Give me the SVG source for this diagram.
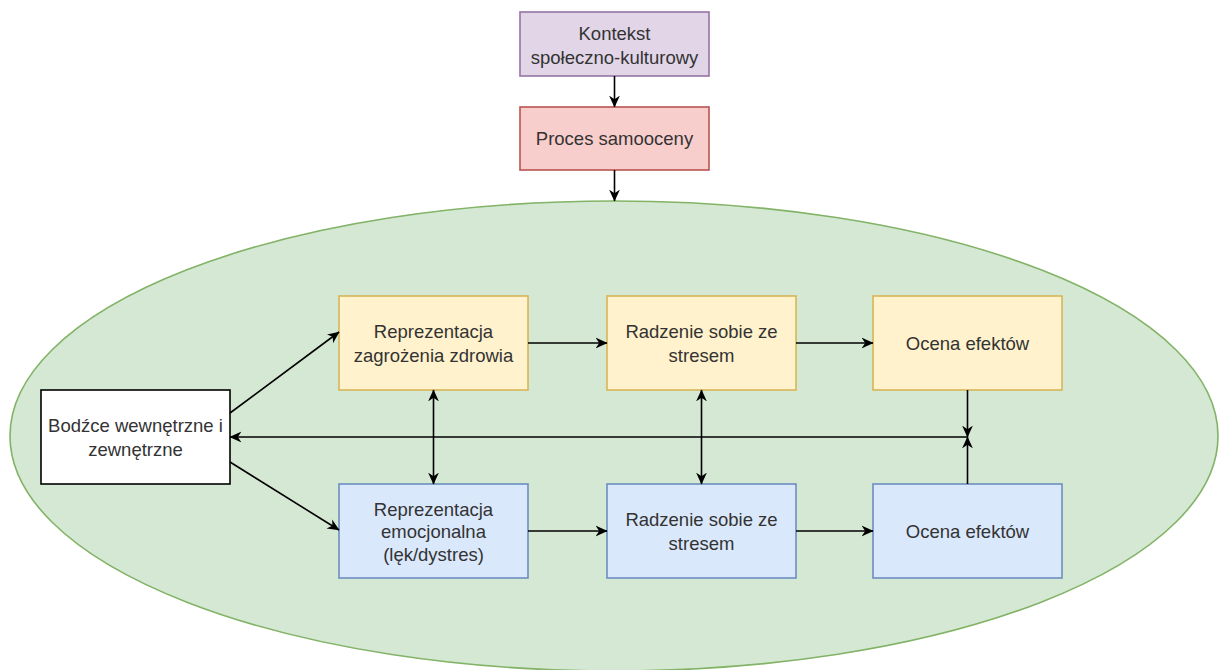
<svg xmlns="http://www.w3.org/2000/svg" width="1219" height="670" viewBox="0 0 1219 670">
<defs>
<marker id="arr" viewBox="0 0 10 10" refX="9.5" refY="5" markerWidth="12" markerHeight="12" markerUnits="userSpaceOnUse" orient="auto-start-reverse">
<path d="M0,0.5 L10,5 L0,9.5 L3,5 Z" fill="#000"/>
</marker>
</defs>
<style>
text{font-family:"Liberation Sans",Arial,sans-serif;font-size:18.5px;fill:#333;text-anchor:middle}
.c{stroke:#000;stroke-width:1.6;fill:none}
.a{marker-end:url(#arr)}
.b{marker-start:url(#arr);marker-end:url(#arr)}
</style>
<rect width="1219" height="670" fill="#fff"/>
<g id="ellipse"><ellipse cx="614" cy="436" rx="604" ry="235" fill="#d5e8d4" stroke="#82b366" stroke-width="1.6"/></g>
<g id="kontekst"><rect x="520" y="12" width="189" height="64" fill="#e1d5e7" stroke="#9673a6" stroke-width="1.6"/><text x="614.5" y="39.5">Kontekst</text><text x="614.5" y="63.5">społeczno-kulturowy</text></g>
<g id="proces"><rect x="520" y="107" width="189" height="63" fill="#f8cecc" stroke="#b85450" stroke-width="1.6"/><text x="614.5" y="145">Proces samooceny</text></g>
<g id="bodzce"><rect x="41" y="390" width="189" height="94" fill="#fff" stroke="#000" stroke-width="1.6"/><text x="135.5" y="431.5">Bodźce wewnętrzne i</text><text x="135.5" y="455.5">zewnętrzne</text></g>
<g id="rep-zagr"><rect x="339" y="296" width="189" height="94" fill="#fff2cc" stroke="#d6b656" stroke-width="1.6"/><text x="433.5" y="337.5">Reprezentacja</text><text x="433.5" y="361.5">zagrożenia zdrowia</text></g>
<g id="radz-top"><rect x="607" y="296" width="189" height="94" fill="#fff2cc" stroke="#d6b656" stroke-width="1.6"/><text x="701.5" y="337.5">Radzenie sobie ze</text><text x="701.5" y="361.5">stresem</text></g>
<g id="ocena-top"><rect x="873" y="296" width="189" height="94" fill="#fff2cc" stroke="#d6b656" stroke-width="1.6"/><text x="967.5" y="349.5">Ocena efektów</text></g>
<g id="rep-emo"><rect x="339" y="484" width="189" height="94" fill="#dae8fc" stroke="#6c8ebf" stroke-width="1.6"/><text x="433.5" y="515.5">Reprezentacja</text><text x="433.5" y="538">emocjonalna</text><text x="433.5" y="561">(lęk/dystres)</text></g>
<g id="radz-bot"><rect x="607" y="484" width="189" height="94" fill="#dae8fc" stroke="#6c8ebf" stroke-width="1.6"/><text x="701.5" y="525.5">Radzenie sobie ze</text><text x="701.5" y="549.5">stresem</text></g>
<g id="ocena-bot"><rect x="873" y="484" width="189" height="94" fill="#dae8fc" stroke="#6c8ebf" stroke-width="1.6"/><text x="967.5" y="537.5">Ocena efektów</text></g>
<g id="connectors">
<path class="c a" d="M614.5,76 V107"/>
<path class="c a" d="M614.5,170 V201"/>
<path class="c a" d="M230,413 L339,332"/>
<path class="c a" d="M230,462 L339,530"/>
<path class="c a" d="M528,343 H607"/>
<path class="c a" d="M796,343 H873"/>
<path class="c a" d="M528,531 H607"/>
<path class="c a" d="M796,531 H873"/>
<path class="c b" d="M433.5,390 V484"/>
<path class="c b" d="M701.5,390 V484"/>
<path class="c a" d="M967.5,390 V437"/>
<path class="c a" d="M967.5,484 V437"/>
<path class="c a" d="M967.5,437 H230"/>
</g>
</svg>
